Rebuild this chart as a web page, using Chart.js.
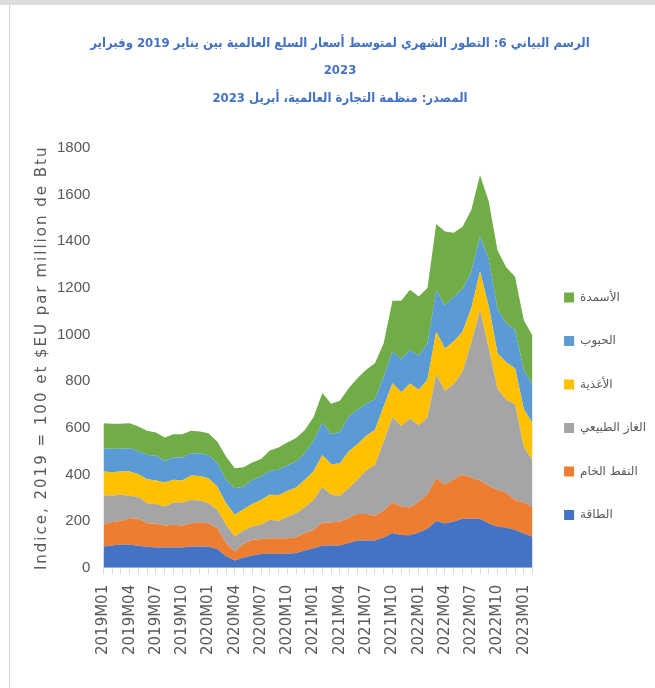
<!DOCTYPE html>
<html lang="ar">
<head>
<meta charset="utf-8">
<title>Commodity prices 2019-2023</title>
<script src="https://cdn.jsdelivr.net/npm/chart.js@4.4.1/dist/chart.umd.min.js"></script>
<style>
  html, body { margin: 0; padding: 0; background: #fff; }
  #wrap { position: relative; width: 655px; height: 688px; overflow: hidden; }
  #wrap canvas { position: absolute; left: 0; top: 0; }
  #topband { position: absolute; left: 0; top: 0; width: 655px; height: 5px; background: #dcdcdc; }
  #leftline { position: absolute; left: 9px; top: 5px; width: 1px; height: 683px; background: #d4d4d4; }
</style>
</head>
<body>
<div id="wrap">
  <canvas id="chart" width="655" height="688"></canvas>
  <div id="topband"></div>
  <div id="leftline"></div>
</div>
<script>
// Months from Jan 2019 to Feb 2023
const months = [
  '2019M01','2019M02','2019M03','2019M04','2019M05','2019M06','2019M07','2019M08','2019M09','2019M10','2019M11','2019M12',
  '2020M01','2020M02','2020M03','2020M04','2020M05','2020M06','2020M07','2020M08','2020M09','2020M10','2020M11','2020M12',
  '2021M01','2021M02','2021M03','2021M04','2021M05','2021M06','2021M07','2021M08','2021M09','2021M10','2021M11','2021M12',
  '2022M01','2022M02','2022M03','2022M04','2022M05','2022M06','2022M07','2022M08','2022M09','2022M10','2022M11','2022M12',
  '2023M01','2023M02'
];

// Index values (2019 = 100), stacked from bottom to top
const energy = [91,96,100,99,94,90,87,87,87,87,91,91,90,81,49,31,44,53,59,60,60,60,63,74,84,94,96,96,106,117,117,117,130,149,141,139,151,167,201,190,198,210,210,210,190,176,173,162,147,133];
const crudeOil = [93,100,101,114,116,101,102,94,97,94,100,103,101,89,57,39,59,67,64,67,67,67,68,75,79,100,98,103,107,114,114,106,116,132,122,120,133,148,183,167,182,190,177,164,162,159,149,129,133,129];
const naturalGas = [126,114,112,96,93,86,84,82,96,99,100,95,86,79,78,64,57,57,61,79,75,91,103,111,128,152,119,110,128,146,186,218,295,364,345,380,327,329,446,401,408,440,578,732,588,431,398,409,238,199];
const food = [103,100,100,104,98,103,101,103,97,94,105,105,107,100,93,93,91,97,107,107,109,111,110,117,123,138,131,138,158,153,149,150,150,146,144,151,152,162,182,182,182,172,147,164,180,154,160,155,162,159];
const grains = [100,100,97,100,100,104,107,93,96,99,95,97,100,100,100,114,98,103,100,103,109,111,112,114,132,139,129,136,150,147,137,132,129,136,143,145,146,157,178,185,192,183,158,152,203,190,166,165,168,164];
const fertilizers = [107,107,107,107,105,103,99,100,100,100,96,93,93,92,100,86,82,74,75,87,96,97,100,100,100,126,130,133,121,136,146,154,143,218,250,257,254,236,284,317,274,267,264,262,247,250,242,228,213,211];

const seriesNames = ['الطاقة', 'النفط الخام', 'الغاز الطبيعي', 'الأغذية', 'الحبوب', 'الأسمدة'];
const seriesValues = [energy, crudeOil, naturalGas, food, grains, fertilizers];
const seriesColors = ['#4472C4', '#ED7D31', '#A5A5A5', '#FFC000', '#5B9BD5', '#70AD47'];

const yTicks = [0, 200, 400, 600, 800, 1000, 1200, 1400, 1600, 1800];

const titleLines = [
  'الرسم البياني 6: التطور الشهري لمتوسط أسعار السلع العالمية بين يناير 2019 وفبراير',
  '2023',
  'المصدر: منظمة التجارة العالمية، أبريل 2023'
];
const yTitle = 'Indice, 2019 = 100 et $EU par million de Btu';

const greyText = '#595959';

// canvas text has no letter-spacing option in Chart.js, so wrap the axis title draw call
const spacedText = {
  id: 'spacedText',
  beforeDraw(chart) {
    const wrap = (scale, fn, spacing) => {
      if (scale[fn].spaced) return;
      const orig = scale[fn];
      const wrapped = function (...args) {
        this.ctx.save();
        this.ctx.letterSpacing = spacing;
        orig.apply(this, args);
        this.ctx.restore();
      };
      wrapped.spaced = true;
      scale[fn] = wrapped;
    };
    wrap(chart.scales.y, 'drawTitle', '2px');
  }
};

const datasets = seriesNames.map((name, i) => ({
  label: name,
  data: seriesValues[i],
  backgroundColor: seriesColors[i],
  borderColor: seriesColors[i],
  borderWidth: 0,
  pointRadius: 0,
  pointHoverRadius: 0,
  tension: 0,
  fill: i === 0 ? 'origin' : '-1'
}));

new Chart(document.getElementById('chart'), {
  type: 'line',
  data: { labels: months, datasets: datasets },
  plugins: [spacedText],
  options: {
    responsive: false,
    animation: false,
    layout: { padding: { left: 24, right: -1, top: 0, bottom: 18 } },
    plugins: {
      title: {
        display: true,
        text: titleLines,
        color: '#4472C4',
        font: { family: "'DejaVu Sans Condensed', 'DejaVu Sans'", size: 13, weight: 'bold', lineHeight: 2.1 },
        padding: { top: 30, bottom: 36 }
      },
      legend: {
        position: 'right',
        reverse: true,
        align: 'center',
        title: { display: true, text: '', padding: { top: 128, bottom: 0 } },
        labels: {
          boxWidth: 10,
          boxHeight: 10,
          padding: 31.5,
          color: greyText,
          font: { family: 'DejaVu Sans', size: 12 }
        }
      },
      tooltip: { enabled: false }
    },
    scales: {
      x: {
        grid: { display: true, drawOnChartArea: false, drawTicks: true, tickLength: 6, color: '#d9d9d9' },
        border: { display: true, color: '#d9d9d9' },
        ticks: {
          autoSkip: false,
          maxRotation: 90,
          minRotation: 90,
          padding: 11,
          color: greyText,
          font: { family: 'DejaVu Sans', size: 15 },
          callback: function (value, index) {
            return index % 3 === 0 ? this.getLabelForValue(value) : '';
          }
        },
        afterFit: (scale) => { scale.height += 4; }
      },
      y: {
        stacked: true,
        min: yTicks[0],
        max: yTicks[yTicks.length - 1],
        grid: { display: false, drawTicks: false },
        border: { display: false },
        afterBuildTicks: (scale) => { scale.ticks = yTicks.map(v => ({ value: v })); },
        ticks: {
          padding: 13,
          color: greyText,
          font: { family: "'Liberation Sans'", size: 15 },
          callback: (value) => String(value)
        },
        title: {
          display: true,
          text: yTitle,
          color: greyText,
          font: { family: 'DejaVu Sans', size: 15 },
          padding: { top: 9, bottom: -7 }
        }
      }
    }
  }
});
</script>
</body>
</html>
